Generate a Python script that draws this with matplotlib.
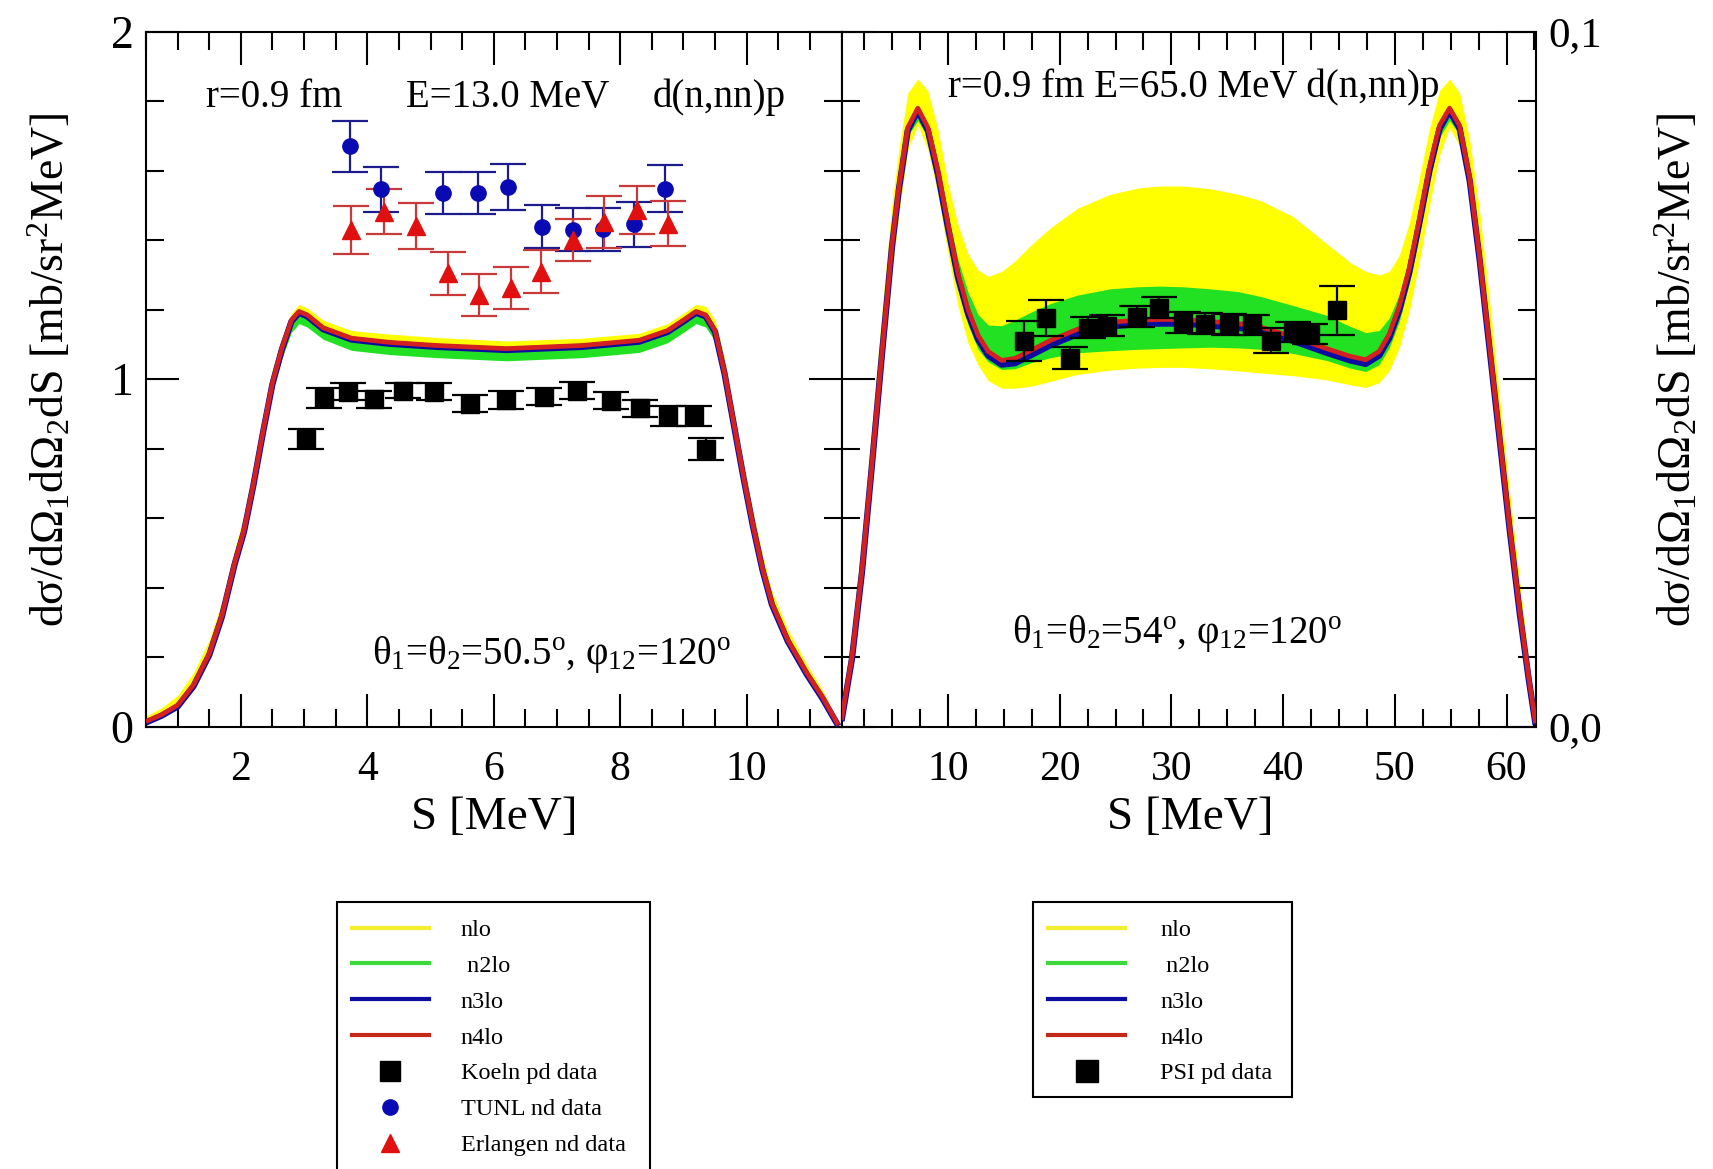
import matplotlib
matplotlib.use("Agg")
import matplotlib.pyplot as plt
from matplotlib.lines import Line2D
from matplotlib.patches import Rectangle
from matplotlib.ticker import MultipleLocator, FixedLocator, FixedFormatter

plt.rcParams['font.family'] = ['Liberation Serif', 'DejaVu Serif']
plt.rcParams['mathtext.fontset'] = 'custom'
plt.rcParams['mathtext.rm'] = 'Liberation Serif'
plt.rcParams['mathtext.it'] = 'Liberation Serif:italic'
plt.rcParams['mathtext.bf'] = 'Liberation Serif:bold'

# ---------------- E = 13 MeV panel (mb/sr^2 MeV) ----------------
L_S = [0.5, 0.75, 1.0, 1.25, 1.5, 1.7, 1.9, 2.05, 2.2, 2.35, 2.5, 2.65, 2.8, 2.92,
       3.05, 3.3, 3.75, 4.35, 5.1, 6.2, 7.4, 8.3, 8.75, 9.0, 9.2, 9.35, 9.5, 9.65,
       9.8, 9.95, 10.1, 10.25, 10.4, 10.65, 10.95, 11.2, 11.45]
L_N4 = [0.015, 0.035, 0.062, 0.12, 0.21, 0.32, 0.47, 0.565, 0.70, 0.85, 0.99, 1.09,
        1.17, 1.195, 1.185, 1.148, 1.118, 1.106, 1.097, 1.088, 1.097, 1.112, 1.14,
        1.17, 1.195, 1.185, 1.14, 1.02, 0.87, 0.72, 0.58, 0.455, 0.355, 0.25, 0.155,
        0.085, 0.005]
L_N3 = [0.012, 0.032, 0.058, 0.116, 0.206, 0.316, 0.466, 0.561, 0.696, 0.846, 0.986,
        1.086, 1.166, 1.191, 1.181, 1.144, 1.114, 1.102, 1.093, 1.084, 1.093, 1.108,
        1.136, 1.166, 1.191, 1.181, 1.136, 1.016, 0.866, 0.716, 0.576, 0.451, 0.351,
        0.246, 0.151, 0.081, 0.002]
L_NLO_HI = [0.03, 0.055, 0.09, 0.155, 0.25, 0.36, 0.51, 0.61, 0.745, 0.895, 1.03, 1.12,
            1.19, 1.215, 1.205, 1.17, 1.14, 1.13, 1.12, 1.11, 1.118, 1.132, 1.16, 1.19,
            1.215, 1.21, 1.17, 1.06, 0.91, 0.76, 0.62, 0.495, 0.39, 0.28, 0.18, 0.105,
            0.015]
L_NLO_LO = [0.01, 0.03, 0.057, 0.115, 0.205, 0.315, 0.465, 0.56, 0.695, 0.845, 0.985,
            1.085, 1.165, 1.19, 1.18, 1.143, 1.113, 1.101, 1.092, 1.083, 1.092, 1.107,
            1.135, 1.165, 1.19, 1.18, 1.135, 1.015, 0.865, 0.715, 0.575, 0.45, 0.35,
            0.245, 0.15, 0.08, 0.0]
L_N2LO_HI = [0.016, 0.036, 0.064, 0.122, 0.212, 0.322, 0.472, 0.567, 0.702, 0.852, 0.992,
             1.092, 1.172, 1.197, 1.187, 1.15, 1.12, 1.108, 1.099, 1.09, 1.099, 1.114,
             1.142, 1.172, 1.197, 1.187, 1.142, 1.022, 0.872, 0.722, 0.582, 0.457, 0.357,
             0.252, 0.157, 0.087, 0.007]
L_N2LO_LO = [0.008, 0.027, 0.052, 0.108, 0.195, 0.302, 0.45, 0.545, 0.68, 0.83, 0.965,
             1.06, 1.135, 1.16, 1.15, 1.115, 1.083, 1.071, 1.062, 1.053, 1.062, 1.077,
             1.105, 1.135, 1.16, 1.15, 1.11, 0.995, 0.85, 0.70, 0.56, 0.438, 0.34,
             0.238, 0.145, 0.077, 0.0]

KOELN_S = [3.03, 3.32, 3.70, 4.11, 4.56, 5.06, 5.63, 6.19, 6.79, 7.32, 7.85, 8.32, 8.76, 9.16, 9.36]
KOELN_Y = [0.828, 0.945, 0.964, 0.942, 0.967, 0.964, 0.930, 0.940, 0.950, 0.967, 0.938,
           0.916, 0.894, 0.894, 0.800]
KOELN_E = [0.029, 0.029, 0.025, 0.025, 0.022, 0.025, 0.025, 0.025, 0.025, 0.025, 0.025,
           0.025, 0.029, 0.029, 0.032]

TUNL_S = [3.73, 4.22, 5.20, 5.75, 6.23, 6.77, 7.25, 7.73, 8.22, 8.71]
TUNL_Y = [1.670, 1.546, 1.535, 1.535, 1.553, 1.439, 1.430, 1.432, 1.446, 1.548]
TUNL_E = [0.073, 0.065, 0.061, 0.061, 0.065, 0.062, 0.062, 0.062, 0.065, 0.068]

ERL_S = [3.74, 4.27, 4.77, 5.27, 5.77, 6.27, 6.75, 7.25, 7.75, 8.26, 8.76]
ERL_Y = [1.429, 1.482, 1.441, 1.305, 1.242, 1.262, 1.309, 1.401, 1.453, 1.487, 1.447]
ERL_E = [0.070, 0.065, 0.065, 0.062, 0.061, 0.061, 0.062, 0.060, 0.075, 0.070, 0.065]

# ---------------- E = 65 MeV panel ----------------
R_S = [0.47, 1.4, 2.3, 3.2, 4.1, 5.0, 5.6, 6.4, 7.3, 8.2, 9.1, 10.0, 10.9, 11.8, 12.7,
       13.6, 14.8, 16.0, 17.5, 19.2, 21.6, 24.5, 27.0, 29.0, 31.0, 33.5, 36.0, 38.0,
       40.9, 43.9, 46.0, 47.4, 48.6, 49.5, 50.4, 51.3, 52.2, 53.1, 54.0, 54.9, 55.8,
       56.7, 57.6, 58.5, 59.4, 60.3, 61.2, 62.0, 62.6]
R_N4 = [0.0010, 0.0100, 0.0225, 0.0380, 0.0540, 0.0695, 0.0775, 0.0862, 0.0890, 0.0862,
        0.0800, 0.0724, 0.0652, 0.0600, 0.0563, 0.0540, 0.0527, 0.0530, 0.0542, 0.0556,
        0.0572, 0.0582, 0.0585, 0.0586, 0.0586, 0.0583, 0.0580, 0.0575, 0.0561, 0.0544,
        0.0533, 0.0528, 0.0540, 0.0565, 0.0605, 0.0660, 0.0730, 0.0805, 0.0865, 0.0890,
        0.0865, 0.0790, 0.0675, 0.0545, 0.0415, 0.0285, 0.0165, 0.0070, 0.0005]
R_N3 = [0.0008, 0.0097, 0.0222, 0.0377, 0.0537, 0.0692, 0.0772, 0.0858, 0.0886, 0.0858,
        0.0795, 0.0718, 0.0646, 0.0594, 0.0557, 0.0534, 0.0521, 0.0523, 0.0535, 0.0549,
        0.0565, 0.0576, 0.0579, 0.0580, 0.0580, 0.0577, 0.0574, 0.0569, 0.0555, 0.0538,
        0.0527, 0.0522, 0.0534, 0.0559, 0.0599, 0.0654, 0.0725, 0.0800, 0.0860, 0.0886,
        0.0861, 0.0786, 0.0671, 0.0541, 0.0411, 0.0281, 0.0161, 0.0067, 0.0003]
R_NLO_HI = [0.0025, 0.0135, 0.0270, 0.0435, 0.0600, 0.0755, 0.0830, 0.0912, 0.0932, 0.0915,
            0.0860, 0.0782, 0.0722, 0.0680, 0.0657, 0.0648, 0.0655, 0.0670, 0.0694, 0.0718,
            0.0746, 0.0766, 0.0775, 0.0778, 0.0778, 0.0774, 0.0766, 0.0757, 0.0734, 0.0695,
            0.0668, 0.0655, 0.0650, 0.0655, 0.0678, 0.0725, 0.0790, 0.0860, 0.0915, 0.0932,
            0.0912, 0.0845, 0.0740, 0.0610, 0.0472, 0.0335, 0.0205, 0.0095, 0.0018]
R_NLO_LO = [0.0, 0.0082, 0.0200, 0.0350, 0.0500, 0.0655, 0.0738, 0.0830, 0.0865, 0.0830,
            0.0765, 0.0680, 0.0605, 0.0552, 0.0520, 0.0498, 0.0487, 0.0487, 0.0490, 0.0497,
            0.0507, 0.0513, 0.0516, 0.0517, 0.0517, 0.0515, 0.0512, 0.0509, 0.0505, 0.0499,
            0.0492, 0.0488, 0.0495, 0.0512, 0.0545, 0.0598, 0.0670, 0.0750, 0.0822, 0.0862,
            0.0835, 0.0760, 0.0640, 0.0510, 0.0385, 0.0260, 0.0145, 0.0055, 0.0]
R_N2LO_HI = [0.0014, 0.0106, 0.0232, 0.0388, 0.0548, 0.0703, 0.0783, 0.0868, 0.0894, 0.0868,
             0.0808, 0.0738, 0.0672, 0.0625, 0.0593, 0.0578, 0.0577, 0.0585, 0.0597, 0.0609,
             0.0621, 0.0630, 0.0633, 0.0634, 0.0633, 0.0630, 0.0626, 0.0619, 0.0606, 0.0592,
             0.0576, 0.0567, 0.0570, 0.0588, 0.0622, 0.0675, 0.0742, 0.0815, 0.0870, 0.0894,
             0.0870, 0.0796, 0.0682, 0.0551, 0.0420, 0.0290, 0.0170, 0.0074, 0.0008]
R_N2LO_LO = [0.0006, 0.0094, 0.0218, 0.0372, 0.0531, 0.0686, 0.0765, 0.0850, 0.0872, 0.0848,
             0.0785, 0.0707, 0.0632, 0.0578, 0.0543, 0.0525, 0.0514, 0.0515, 0.0524, 0.0531,
             0.0538, 0.0541, 0.0543, 0.0544, 0.0545, 0.0546, 0.0545, 0.0543, 0.0537, 0.0527,
             0.0516, 0.0511, 0.0521, 0.0545, 0.0583, 0.0638, 0.0708, 0.0785, 0.0848, 0.0872,
             0.0852, 0.0780, 0.0666, 0.0537, 0.0407, 0.0278, 0.0158, 0.0064, 0.0002]

PSI_S = [16.8, 18.8, 20.9, 22.5, 24.2, 26.9, 28.9, 31.0, 33.0, 35.2, 37.2, 38.9, 40.9, 42.4, 44.8]
PSI_Y = [0.0555, 0.0588, 0.0530, 0.0574, 0.0577, 0.0590, 0.0603, 0.0582, 0.0580, 0.0579,
         0.0578, 0.0555, 0.0568, 0.0565, 0.0599]
PSI_E = [0.0029, 0.0026, 0.0016, 0.0015, 0.0015, 0.0015, 0.0015, 0.0015, 0.0015, 0.0015,
         0.0015, 0.0018, 0.0015, 0.0015, 0.0035]

ORDER_LABELS = ['nlo', ' n2lo', 'n3lo', 'n4lo']
C_NLO, C_N2LO, C_N3LO, C_N4LO = '#ffff00', '#22e022', '#0c0ca0', '#d42020'
C_TUNL, C_ERL = '#0a0ab4', '#e01010'

W, H = 1713, 1169
fig = plt.figure(figsize=(W / 100, H / 100), dpi=100)
x_mid = 841.5
axL = fig.add_axes([146 / W, 1 - 726.7 / H, (x_mid - 146) / W, 695 / H])
axR = fig.add_axes([x_mid / W, 1 - 726.7 / H, (1536 - x_mid) / W, 695 / H])


def draw_orders(ax, s, nlo_lo, nlo_hi, n2_lo, n2_hi, n3, n4):
    ax.fill_between(s, nlo_lo, nlo_hi, color=C_NLO, lw=0, zorder=1)
    ax.fill_between(s, n2_lo, n2_hi, color=C_N2LO, lw=0, zorder=2)
    ax.plot(s, n3, color=C_N3LO, lw=4.5, zorder=3, solid_capstyle='butt')
    ax.plot(s, n4, color=C_N4LO, lw=3.4, zorder=4, solid_capstyle='butt')


draw_orders(axL, L_S, L_NLO_LO, L_NLO_HI, L_N2LO_LO, L_N2LO_HI, L_N3, L_N4)
draw_orders(axR, R_S, R_NLO_LO, R_NLO_HI, R_N2LO_LO, R_N2LO_HI, R_N3, R_N4)

eb = dict(fmt='none', elinewidth=1.6, capsize=13, capthick=1.6, zorder=5)
axL.errorbar(KOELN_S, KOELN_Y, yerr=KOELN_E, ecolor='k', **eb)
axL.errorbar(TUNL_S, TUNL_Y, yerr=TUNL_E, ecolor='#1c1c8c', **eb)
axL.errorbar(ERL_S, ERL_Y, yerr=ERL_E, ecolor='#c83a3a', **eb)
axR.errorbar(PSI_S, PSI_Y, yerr=PSI_E, ecolor='k', **eb)

axL.plot(KOELN_S, KOELN_Y, ls='none', marker='s', ms=13, color='k', zorder=6)
axL.plot(TUNL_S, TUNL_Y, ls='none', marker='o', ms=11, color=C_TUNL, zorder=6)
axL.plot(ERL_S, ERL_Y, ls='none', marker='^', ms=13, color=C_ERL, zorder=6)
axR.plot(PSI_S, PSI_Y, ls='none', marker='s', ms=13, color='k', zorder=6)

# axes styling: inward ticks on all four sides
for ax in (axL, axR):
    for sp in ax.spines.values():
        sp.set_linewidth(1.5)
    ax.tick_params(which='both', direction='in', top=True, bottom=True,
                   left=True, right=True, width=1.5)
    ax.tick_params(which='major', length=24)
    ax.tick_params(which='minor', length=13)
    ax.tick_params(axis='x', labelsize=30, pad=17)

axL.set_xlim(0.5, 11.5)
axL.set_ylim(0, 2)
axL.xaxis.set_major_locator(FixedLocator([2, 4, 6, 8, 10]))
axL.xaxis.set_minor_locator(MultipleLocator(0.5))
axL.yaxis.set_major_locator(FixedLocator([0, 1, 2]))
axL.yaxis.set_minor_locator(MultipleLocator(0.2))
axL.tick_params(axis='y', labelsize=33, pad=9, labelleft=True, labelright=False)

axR.set_xlim(0.47, 62.64)
axR.set_ylim(0, 0.1)
axR.xaxis.set_major_locator(FixedLocator([10, 20, 30, 40, 50, 60]))
axR.xaxis.set_minor_locator(MultipleLocator(2.5))
axR.yaxis.set_major_locator(FixedLocator([0, 0.05, 0.1]))
axR.yaxis.set_major_formatter(FixedFormatter(['0,0', '', '0,1']))
axR.yaxis.set_minor_locator(MultipleLocator(0.01))
axR.tick_params(axis='y', labelsize=31, pad=9, labelleft=False, labelright=True)

# axis titles
ylab = 'dσ/dΩ$_1$dΩ$_2$dS [mb/sr$^2$MeV]'
fig.text(50 / W, 1 - 370 / H, ylab, rotation=90, fontsize=33, ha='center', va='center')
fig.text(1677 / W, 1 - 370 / H, ylab, rotation=90, fontsize=33, ha='center', va='center')
fig.text(494 / W, 1 - 818 / H, 'S [MeV]', fontsize=34, ha='center', va='center')
fig.text(1190 / W, 1 - 818 / H, 'S [MeV]', fontsize=34, ha='center', va='center')

# panel annotations
fig.text(205.7 / W, 1 - 107.3 / H, 'r=0.9 fm', fontsize=28, va='baseline')
fig.text(406.3 / W, 1 - 107.3 / H, 'E=13.0 MeV', fontsize=28, va='baseline')
fig.text(652.6 / W, 1 - 107.3 / H, 'd(n,nn)p', fontsize=28, va='baseline')
fig.text(948.5 / W, 1 - 96.7 / H, 'r=0.9 fm E=65.0 MeV d(n,nn)p', fontsize=28, va='baseline')
fig.text(371.5 / W, 1 - 664 / H,
         r'θ$_1$=θ$_2$=50.5$^{\rm o}$, φ$_{12}$=120$^{\rm o}$', fontsize=28, va='baseline')
fig.text(1012 / W, 1 - 643 / H,
         r'θ$_1$=θ$_2$=54$^{\rm o}$, φ$_{12}$=120$^{\rm o}$', fontsize=28, va='baseline')

# legends
order_handles = [Line2D([], [], color=c, lw=3)
                 for c in ('#f4ee30', '#3cd83c', C_N3LO, '#c42818')]
koeln_h = Line2D([], [], ls='none', marker='s', ms=14, color='k')
tunl_h = Line2D([], [], ls='none', marker='o', ms=11, color=C_TUNL)
erl_h = Line2D([], [], ls='none', marker='^', ms=13, color=C_ERL)
psi_h = Line2D([], [], ls='none', marker='s', ms=16, color='k')

leg_kw = dict(loc='upper left', bbox_transform=fig.transFigure, frameon=False,
              fontsize=17.5, handlelength=3.17, labelspacing=0.57, borderpad=0,
              borderaxespad=0, numpoints=1)
fig.legend(order_handles + [koeln_h, tunl_h, erl_h],
           ORDER_LABELS + ['Koeln pd data', 'TUNL nd data', 'Erlangen nd data'],
           bbox_to_anchor=(351.7 / W, 1 - 919 / H), handletextpad=1.32, **leg_kw)
fig.legend(order_handles + [psi_h], ORDER_LABELS + ['PSI pd data'],
           bbox_to_anchor=(1048.3 / W, 1 - 919 / H), handletextpad=1.44, **leg_kw)

fig.add_artist(Rectangle((336.7 / W, 1 - 1200 / H), (650 - 336.7) / W, (1200 - 901.7) / H,
                         transform=fig.transFigure, fill=False, ec='k', lw=1.5))
fig.add_artist(Rectangle((1032.7 / W, 1 - 1097.3 / H), (1291.7 - 1032.7) / W,
                         (1097.3 - 901.7) / H, transform=fig.transFigure, fill=False,
                         ec='k', lw=1.5))

fig.savefig('out.png', dpi=100, facecolor='white')
